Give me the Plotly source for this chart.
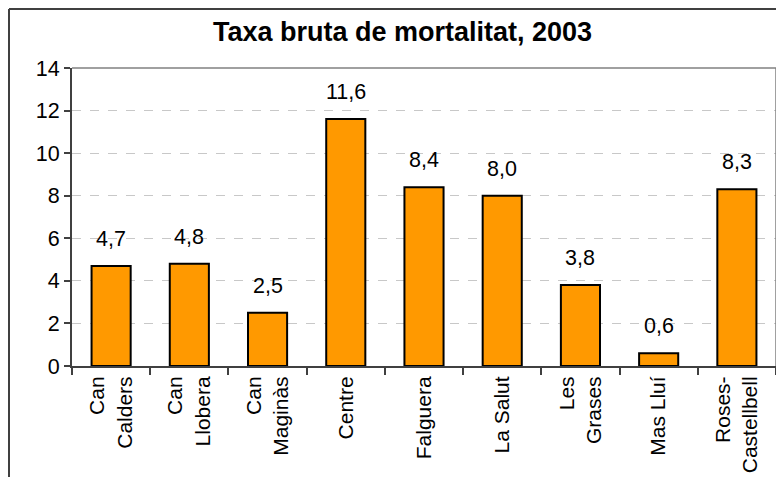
import plotly.graph_objects as go

categories = ["Can<br>Calders", "Can<br>Llobera", "Can<br>Maginàs", "Centre", "Falguera",
              "La Salut", "Les<br>Grases", "Mas Lluí", "Roses-<br>Castellbell"]
values = [4.7, 4.8, 2.5, 11.6, 8.4, 8.0, 3.8, 0.6, 8.3]
y_ticks = [0, 2, 4, 6, 8, 10, 12, 14]
title = "Taxa bruta de mortalitat, 2003"

FONT = "Liberation Sans, Arial, sans-serif"

# page body has an 8px default margin, so figure origin sits at (8, 8) of the window
W, H = 776, 469
ml, mr, mt, mb = 64, 8, 60, 111
pw, ph = W - ml - mr, H - mt - mb

fig = go.Figure()
fig.add_trace(go.Bar(
    x=categories, y=values,
    marker=dict(color="#FF9900", line=dict(color="#000000", width=2)),
    width=0.5,
    hoverinfo="skip",
))

for c, v in zip(categories, values):
    fig.add_annotation(x=c, y=v, text=f"{v:.1f}".replace(".", ","),
                       showarrow=False, yanchor="middle", yshift=27,
                       font=dict(family=FONT, size=21.5, color="#000000"))


def px_x(p):
    return (p - ml) / pw


def px_y(p):
    return (H - mb - p) / ph


shapes = [
    # outer chart frame (top and left visible)
    dict(type="line", xref="paper", yref="paper", x0=px_x(1), x1=px_x(W + 10),
         y0=px_y(1), y1=px_y(1), line=dict(color="#404040", width=2)),
    dict(type="line", xref="paper", yref="paper", x0=px_x(1), x1=px_x(1),
         y0=px_y(1), y1=px_y(H + 10), line=dict(color="#404040", width=2)),
    # plot area frame top and right
    dict(type="line", xref="paper", yref="paper", x0=0, x1=1, y0=1, y1=1,
         line=dict(color="#808080", width=1.5)),
    dict(type="line", xref="paper", yref="paper", x0=1, x1=1, y0=0, y1=1,
         line=dict(color="#808080", width=1.5)),
]

fig.update_layout(
    width=W, height=H,
    margin=dict(l=ml, r=mr, t=mt, b=mb, autoexpand=False),
    paper_bgcolor="white", plot_bgcolor="white",
    showlegend=False,
    font=dict(family=FONT, size=21.5, color="#000000"),
    title=dict(text="<b>" + title + "</b>", x=394.5 / W, xanchor="center", xref="container",
               y=1 - 24 / H, yanchor="middle", yref="container",
               font=dict(family=FONT, size=27, color="#000000")),
    shapes=shapes,
    bargap=0.5,
)
fig.update_xaxes(
    type="category", tickangle=-90, tickson="boundaries",
    ticks="outside", ticklen=7, tickcolor="#404040", tickwidth=1.5,
    showline=True, linecolor="#404040", linewidth=2,
    showgrid=False, tickfont=dict(family=FONT, size=21, color="#000000"),
    range=[-0.5, len(categories) - 0.5],
)
fig.update_yaxes(
    range=[0, 14], tickvals=y_ticks, ticktext=[str(t) for t in y_ticks],
    ticks="outside", ticklen=6, tickcolor="#404040", tickwidth=1.5,
    showline=True, linecolor="#404040", linewidth=2,
    showgrid=True, gridcolor="#c8c8c8", griddash="dash", gridwidth=1,
    zeroline=False, tickfont=dict(family=FONT, size=21.5, color="#000000"),
)

fig.write_html("out.html")
